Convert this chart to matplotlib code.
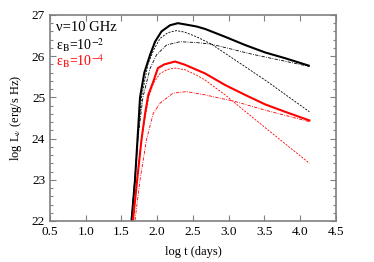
import matplotlib
matplotlib.use("Agg")
import matplotlib.pyplot as plt
from matplotlib.ticker import MultipleLocator

plt.rcParams['font.family'] = ['Liberation Serif', 'DejaVu Serif']
plt.rcParams['mathtext.fontset'] = 'stix'

# Black (eps_B = 1e-2)
bk_solid_x = [1.64, 1.69, 1.725, 1.76, 1.82, 1.90, 1.97, 2.06, 2.18, 2.29, 2.39, 2.55, 2.67, 2.95, 3.23, 3.51, 3.79, 4.12]
bk_solid_y = [22.0, 23.0, 24.0, 25.0, 25.6, 26.03, 26.35, 26.6, 26.75, 26.80, 26.77, 26.72, 26.66, 26.47, 26.27, 26.09, 25.95, 25.77]
bk_dash_x = [1.64, 1.73, 1.78, 1.87, 1.95, 2.04, 2.15, 2.27, 2.39, 2.55, 2.76, 3.51, 4.13]
bk_dash_y = [22.0, 24.0, 25.0, 25.8, 26.15, 26.43, 26.57, 26.62, 26.58, 26.47, 26.29, 25.42, 24.65]
bk_dd_x = [1.64, 1.73, 1.80, 1.90, 1.99, 2.13, 2.32, 2.55, 2.76, 3.32, 4.13]
bk_dd_y = [22.0, 24.0, 25.0, 25.7, 26.03, 26.27, 26.35, 26.33, 26.29, 26.05, 25.75]

# Red (eps_B = 1e-4)
rd_solid_x = [1.66, 1.72, 1.78, 1.83, 1.875, 1.945, 2.01, 2.10, 2.25, 2.39, 2.55, 2.67, 2.95, 3.23, 3.51, 3.79, 4.13]
rd_solid_y = [22.0, 23.0, 23.97, 24.6, 25.06, 25.38, 25.71, 25.80, 25.87, 25.79, 25.67, 25.58, 25.30, 25.06, 24.83, 24.65, 24.44]
rd_dash_x = [1.66, 1.72, 1.78, 1.88, 1.95, 2.04, 2.15, 2.25, 2.39, 2.55, 2.67, 2.95, 3.09, 3.55, 4.13]
rd_dash_y = [22.0, 23.0, 24.0, 25.0, 25.35, 25.58, 25.68, 25.71, 25.67, 25.54, 25.42, 25.06, 24.86, 24.21, 23.40]
rd_dd_x = [1.69, 1.76, 1.85, 1.945, 2.04, 2.22, 2.41, 2.67, 3.09, 3.51, 4.13]
rd_dd_y = [22.02, 23.0, 23.97, 24.61, 24.86, 25.10, 25.14, 25.06, 24.90, 24.69, 24.41]

fig = plt.figure(figsize=(3.74, 2.62), dpi=100)
ax = fig.add_axes([0.1337, 0.1565, 0.898 - 0.1337, 0.943 - 0.1565])

ax.plot(bk_solid_x, bk_solid_y, color='black', lw=1.5)
ax.plot(bk_dash_x, bk_dash_y, color='black', lw=0.6, dashes=(2.5, 1.5))
ax.plot(bk_dd_x, bk_dd_y, color='black', lw=0.6, dashes=(4, 1.5, 1, 1.5))
ax.plot(rd_solid_x, rd_solid_y, color='red', lw=1.5)
ax.plot(rd_dash_x, rd_dash_y, color='red', lw=0.6, dashes=(2.5, 1.5))
ax.plot(rd_dd_x, rd_dd_y, color='red', lw=0.6, dashes=(4, 1.5, 1, 1.5))

ax.set_xlim(0.5, 4.5)
ax.set_ylim(22, 27)
ax.xaxis.set_major_locator(MultipleLocator(0.5))
ax.yaxis.set_major_locator(MultipleLocator(1))
ax.yaxis.set_minor_locator(MultipleLocator(0.2))
ax.tick_params(which='both', direction='in', top=True, right=True, color='#808080', labelsize=9.5)
ax.tick_params(which='major', length=4, width=0.8)
ax.tick_params(which='minor', length=2, width=0.8)
for s in ax.spines.values():
    s.set_color('#808080')
    s.set_linewidth(1.2)

ax.set_xlabel('log t (days)', fontsize=9, labelpad=6)
ax.set_ylabel(r'log L$_\nu$ (erg/s Hz)', fontsize=9, labelpad=6)

ax.text(0.022, 0.937, 'ν=10 GHz', transform=ax.transAxes, fontsize=10.5, va='center', ha='left')
ax.text(0.022, 0.855, r'ε$_{\rm B}$=10$^{-2}$', transform=ax.transAxes, fontsize=10, va='center', ha='left', color='black')
ax.text(0.022, 0.777, r'ε$_{\rm B}$=10$^{-4}$', transform=ax.transAxes, fontsize=10, va='center', ha='left', color='red')

fig.savefig('out.png', dpi=100)
